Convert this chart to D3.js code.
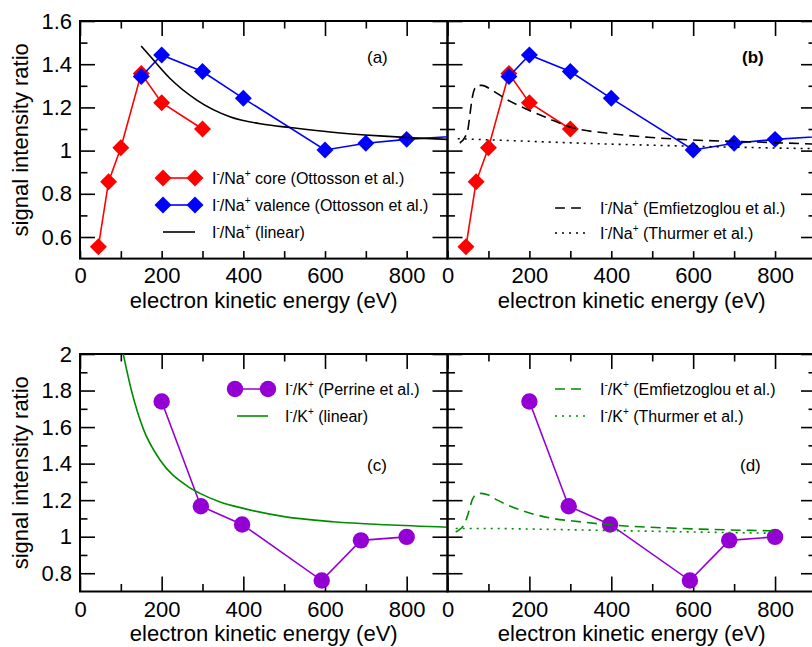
<!DOCTYPE html>
<html>
<head>
<meta charset="utf-8">
<script src="https://cdn.jsdelivr.net/npm/d3@7"></script>
<style>
  body { margin: 0; background: #fff; }
  svg { display: block; font-family: "Liberation Sans", Arial, Helvetica, sans-serif; }
</style>
</head>
<body>
<svg width="812" height="647"></svg>
<script>
// I-/Na+ core and valence (Ottosson et al.)
const coreEnergy = [45, 70, 100, 150, 200, 300];
const coreRatio = [0.555, 0.856, 1.013, 1.357, 1.222, 1.100];
const valenceEnergy = [150, 200, 300, 400, 600, 700, 800, 1000];
const valenceRatio = [1.343, 1.443, 1.366, 1.242, 1.003, 1.034, 1.052, 1.076];

// I-/Na+ linear model
const naLinearEnergy = [150, 180, 220, 286, 367, 449, 514, 612, 734, 816, 900];
const naLinearRatio = [1.484, 1.419, 1.335, 1.234, 1.157, 1.122, 1.107, 1.086, 1.068, 1.059, 1.052];

// I-/Na+ Emfietzoglou (dashed) and Thurmer (dotted)
const naEmfEnergy = [30, 42, 50, 55, 60, 66, 75, 85, 106, 139, 188, 245, 302, 392, 490, 612, 734, 900];
const naEmfRatio = [1.035, 1.06, 1.10, 1.17, 1.24, 1.285, 1.302, 1.302, 1.283, 1.243, 1.196, 1.150, 1.108, 1.080, 1.062, 1.048, 1.041, 1.030];
const naThuEnergy = [25, 100, 200, 300, 400, 500, 600, 700, 800, 900];
const naThuRatio = [1.055, 1.050, 1.043, 1.036, 1.030, 1.025, 1.020, 1.016, 1.012, 1.009];

// I-/K+ (Perrine et al.)
const kEnergy = [200, 296, 397, 592, 688, 800];
const kRatio = [1.740, 1.167, 1.067, 0.760, 0.980, 0.999];

// I-/K+ linear, Emfietzoglou, Thurmer
const kLinearEnergy = [104, 126, 155, 196, 261, 294, 343, 400, 500, 620, 750, 900];
const kLinearRatio = [2.02, 1.80, 1.59, 1.42, 1.28, 1.237, 1.19, 1.155, 1.11, 1.082, 1.065, 1.052];
const kEmfEnergy = [20, 30, 37, 45, 53, 60, 68, 82, 100, 122, 179, 245, 326, 408, 571, 800];
const kEmfRatio = [1.026, 1.040, 1.054, 1.090, 1.145, 1.200, 1.228, 1.237, 1.228, 1.200, 1.145, 1.105, 1.081, 1.063, 1.045, 1.032];
const kThuEnergy = [20, 100, 200, 300, 400, 500, 600, 700, 800];
const kThuRatio = [1.045, 1.045, 1.042, 1.038, 1.034, 1.030, 1.026, 1.022, 1.019];

const xMajor = [0, 200, 400, 600, 800];
const xMinor = [100, 300, 500, 700];
const yMajorTop = [0.6, 0.8, 1, 1.2, 1.4, 1.6];
const yMinorTop = [0.7, 0.9, 1.1, 1.3, 1.5];
const yMajorBottom = [0.8, 1, 1.2, 1.4, 1.6, 1.8, 2];
const yMinorBottom = [0.9, 1.1, 1.3, 1.5, 1.7, 1.9];

const RED = "#ff0000", BLUE = "#0000ff", PURPLE = "#9400d3", GREEN = "#008c00";
const FONT_AXIS = 22, FONT_LEGEND = 16;

const svg = d3.select("svg");
const zip = (xs, ys) => xs.map((v, i) => [v, ys[i]]);

function panel(id, left, right, top, bottom, yDomain, opts) {
  const x = d3.scaleLinear().domain([0, 900]).range([left, right]);
  const y = d3.scaleLinear().domain(yDomain).range([bottom, top]);
  const g = svg.append("g");

  g.append("clipPath").attr("id", "clip-" + id)
    .append("rect").attr("x", left).attr("y", top)
    .attr("width", right - left).attr("height", bottom - top);

  const ticks = (axis, values, size, pos, labels, pad) => {
    const a = g.append("g").attr("transform", pos)
      .call(axis.tickValues(values).tickSize(-size).tickPadding(pad || 3)
        .tickFormat(labels ? labels : ""));
    a.select(".domain").remove();
    a.selectAll("line").attr("stroke", "#000").attr("stroke-width", 1.6);
    a.attr("font-size", FONT_AXIS).attr("font-family", null);
    a.selectAll("text").attr("fill", "#000");
    return a;
  };

  const bottomMajor = opts.shortBottom ? 7.5 : 15;
  ticks(d3.axisBottom(x), xMajor, bottomMajor, `translate(0,${bottom})`, d3.format("d"), opts.xPad);
  ticks(d3.axisBottom(x), xMinor, 7.5, `translate(0,${bottom})`);
  ticks(d3.axisTop(x), xMajor, 15, `translate(0,${top})`);
  ticks(d3.axisTop(x), xMinor, 7.5, `translate(0,${top})`);
  ticks(d3.axisLeft(y), opts.yMajor, 15, `translate(${left},0)`,
    opts.yLabels ? d3.format("~g") : null, 8);
  ticks(d3.axisLeft(y), opts.yMinor, 7.5, `translate(${left},0)`);
  ticks(d3.axisRight(y), opts.yMajor, 15, `translate(${right},0)`);
  ticks(d3.axisRight(y), opts.yMinor, 7.5, `translate(${right},0)`);

  g.append("rect").attr("x", left).attr("y", top)
    .attr("width", right - left).attr("height", bottom - top)
    .attr("fill", "none").attr("stroke", "#000").attr("stroke-width", 2);

  g.append("text")
    .attr("x", (left + right) / 2).attr("y", opts.titleY)
    .attr("text-anchor", "middle").attr("font-size", FONT_AXIS)
    .text("electron kinetic energy (eV)");

  if (opts.yLabels) {
    g.append("text")
      .attr("transform", `translate(28,${(top + bottom) / 2}) rotate(-90)`)
      .attr("text-anchor", "middle").attr("font-size", FONT_AXIS)
      .text("signal intensity ratio");
  }

  const plot = g.append("g");
  return { x, y, g, plot, clip: `url(#clip-${id})` };
}

function series(p, pts, color, dash, curve) {
  const line = d3.line().x(d => p.x(d[0])).y(d => p.y(d[1]))
    .curve(curve ? d3.curveMonotoneX : d3.curveLinear);
  p.plot.append("path").datum(pts)
    .attr("clip-path", p.clip)
    .attr("d", line).attr("fill", "none")
    .attr("stroke", color).attr("stroke-width", 1.6)
    .attr("stroke-dasharray", dash || null);
}

function diamonds(p, pts, color) {
  p.plot.selectAll(null).data(pts.filter(d => d[0] <= 900)).enter().append("path")
    .attr("d", d3.symbol(d3.symbolSquare, 144)())
    .attr("transform", d => `translate(${p.x(d[0])},${p.y(d[1])}) rotate(45)`)
    .attr("fill", color);
}

function circles(p, pts, color) {
  p.plot.selectAll(null).data(pts).enter().append("circle")
    .attr("cx", d => p.x(d[0])).attr("cy", d => p.y(d[1]))
    .attr("r", 8.2).attr("fill", color);
}

function panelLabel(p, text, x, y, bold) {
  p.g.append("text").attr("x", x).attr("y", y).attr("font-size", 17)
    .attr("font-weight", bold ? "bold" : null).text(text);
}

// legend entry: sample from x0 to x1 at y, text at tx
function legendEntry(p, x0, x1, y, tx, ion, rest, style) {
  const lg = p.g.append("g");
  lg.append("line").attr("x1", x0).attr("x2", x1).attr("y1", y).attr("y2", y)
    .attr("stroke", style.color).attr("stroke-width", 1.6)
    .attr("stroke-dasharray", style.dash || null);
  if (style.marker === "diamond") {
    [x0, x1].forEach(cx => lg.append("path")
      .attr("d", d3.symbol(d3.symbolSquare, 144)())
      .attr("transform", `translate(${cx},${y}) rotate(45)`)
      .attr("fill", style.color));
  } else if (style.marker === "circle") {
    [x0, x1].forEach(cx => lg.append("circle")
      .attr("cx", cx).attr("cy", y).attr("r", 8.2).attr("fill", style.color));
  }
  const t = lg.append("text").attr("x", tx).attr("y", y + 6).attr("font-size", FONT_LEGEND);
  t.append("tspan").text("I");
  t.append("tspan").attr("font-size", 10).attr("dy", -7).text("-");
  t.append("tspan").attr("dy", 7).text("/" + ion);
  t.append("tspan").attr("font-size", 10).attr("dy", -7).text("+");
  t.append("tspan").attr("dy", 7).text(" " + rest);
}

const core = zip(coreEnergy, coreRatio);
const valence = zip(valenceEnergy, valenceRatio);

// (a)
const pa = panel("a", 80, 447.5, 21, 258.6, [0.5, 1.6],
  { yMajor: yMajorTop, yMinor: yMinorTop, yLabels: true, shortBottom: true, xPad: 9, titleY: 308 });
series(pa, core, RED);
diamonds(pa, core, RED);
series(pa, valence, BLUE);
diamonds(pa, valence, BLUE);
series(pa, zip(naLinearEnergy, naLinearRatio), "#000", null, true);
panelLabel(pa, "(a)", 367, 63);
legendEntry(pa, 163, 195, 178, 212, "Na", "core (Ottosson et al.)", { color: RED, marker: "diamond" });
legendEntry(pa, 163, 195, 205, 212, "Na", "valence (Ottosson et al.)", { color: BLUE, marker: "diamond" });
legendEntry(pa, 163, 195, 232, 212, "Na", "(linear)", { color: "#000" });

// (b)
const pb = panel("b", 447.5, 816, 21, 258.6, [0.5, 1.6],
  { yMajor: yMajorTop, yMinor: yMinorTop, yLabels: false, shortBottom: true, xPad: 9, titleY: 308 });
series(pb, core, RED);
diamonds(pb, core, RED);
series(pb, valence, BLUE);
diamonds(pb, valence, BLUE);
series(pb, zip(naEmfEnergy, naEmfRatio), "#000", "10,6", true);
series(pb, zip(naThuEnergy, naThuRatio), "#000", "2,5", true);
panelLabel(pb, "(b)", 742, 63, true);
legendEntry(pb, 555, 587, 208, 600, "Na", "(Emfietzoglou et al.)", { color: "#000", dash: "10,6" });
legendEntry(pb, 555, 587, 233, 600, "Na", "(Thurmer et al.)", { color: "#000", dash: "2,5" });

const perrine = zip(kEnergy, kRatio);

// (c)
const pc = panel("c", 80, 447.5, 354, 591.5, [0.7, 2],
  { yMajor: yMajorBottom, yMinor: yMinorBottom, yLabels: true, shortBottom: false, xPad: 10, titleY: 641 });
series(pc, perrine, PURPLE);
circles(pc, perrine, PURPLE);
series(pc, zip(kLinearEnergy, kLinearRatio), GREEN, null, true);
panelLabel(pc, "(c)", 367, 471);
legendEntry(pc, 235, 268, 389, 285, "K", "(Perrine et al.)", { color: PURPLE, marker: "circle" });
legendEntry(pc, 237, 268, 416, 285, "K", "(linear)", { color: GREEN });

// (d)
const pd = panel("d", 447.5, 816, 354, 591.5, [0.7, 2],
  { yMajor: yMajorBottom, yMinor: yMinorBottom, yLabels: false, shortBottom: false, xPad: 10, titleY: 641 });
series(pd, perrine, PURPLE);
circles(pd, perrine, PURPLE);
series(pd, zip(kEmfEnergy, kEmfRatio), GREEN, "10,6", true);
series(pd, zip(kThuEnergy, kThuRatio), GREEN, "2,5", true);
panelLabel(pd, "(d)", 740, 471);
legendEntry(pd, 555, 587, 389, 600, "K", "(Emfietzoglou et al.)", { color: GREEN, dash: "10,6" });
legendEntry(pd, 555, 587, 416, 600, "K", "(Thurmer et al.)", { color: GREEN, dash: "2,5" });
</script>
</body>
</html>
